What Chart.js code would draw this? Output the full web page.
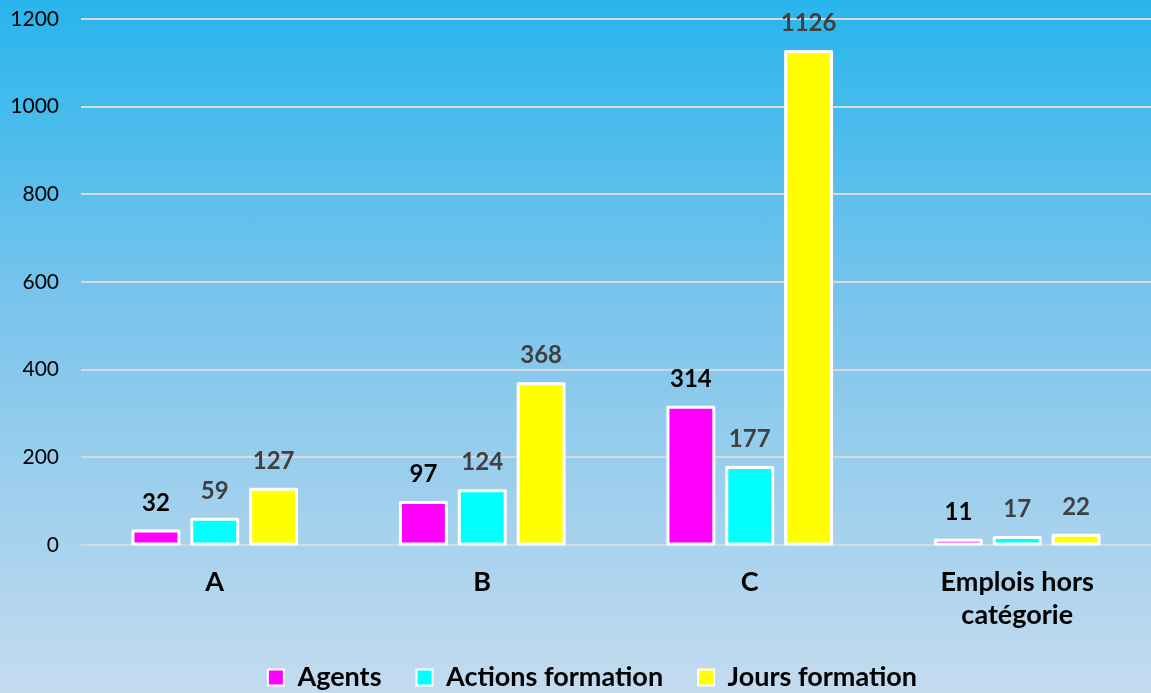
<!DOCTYPE html>
<html>
<head>
<meta charset="utf-8">
<script src="https://cdn.jsdelivr.net/npm/chart.js@4/dist/chart.umd.min.js"></script>
<style>
html,body{margin:0;padding:0;}
body{width:1151px;height:693px;background:linear-gradient(to bottom,#28b5ec 0%,#7cc5ec 45%,#c4dbef 100%);overflow:hidden;}
#wrap{position:relative;width:1151px;height:693px;}
</style>
</head>
<body>
<div id="wrap"><canvas id="c" width="1151" height="693"></canvas></div>
<script>
const categories = ["A", "B", "C", ["Emplois hors", "catégorie"]];
const agents = [32, 97, 314, 11];
const actionsFormation = [59, 124, 177, 17];
const joursFormation = [127, 368, 1126, 22];
const seriesNames = ["Agents", "Actions formation", "Jours formation"];
const yTicks = [0, 200, 400, 600, 800, 1000, 1200];

const FONT = "Lato, 'Open Sans', sans-serif";

const labelPlugin = {
  id: 'valueLabels',
  afterLayout(chart) {
    if (chart.legend) { chart.legend.left += 17; chart.legend.right += 17; }
  },
  afterDatasetsDraw(chart) {
    const ctx = chart.ctx;
    // white outlines centred on the bar edges
    chart.data.datasets.forEach((ds, i) => {
      const meta = chart.getDatasetMeta(i);
      meta.data.forEach((bar) => {
        const p = bar.getProps(['x', 'y', 'base', 'width'], true);
        ctx.save();
        ctx.strokeStyle = "#ffffff";
        ctx.lineWidth = 3;
        ctx.lineJoin = "round";
        ctx.strokeRect(p.x - p.width / 2, p.y, p.width, p.base - p.y);
        ctx.restore();
      });
    });
    chart.data.datasets.forEach((ds, i) => {
      const meta = chart.getDatasetMeta(i);
      meta.data.forEach((bar, j) => {
        ctx.save();
        ctx.font = "bold 24px " + FONT;
        ctx.fillStyle = i === 0 ? "#000000" : "#404040";
        ctx.textAlign = "center";
        ctx.textBaseline = "middle";
        ctx.fillText(String(ds.data[j]), bar.x, bar.y - 28);
        ctx.restore();
      });
    });
  }
};

new Chart(document.getElementById('c'), {
  type: 'bar',
  data: {
    labels: categories,
    datasets: [
      {label: seriesNames[0], data: agents, backgroundColor: "#ff00ff"},
      {label: seriesNames[1], data: actionsFormation, backgroundColor: "#00ffff"},
      {label: seriesNames[2], data: joursFormation, backgroundColor: "#ffff00"}
    ]
  },
  options: {
    responsive: false,
    animation: false,
    layout: {padding: {top: 19, right: 0, left: 0, bottom: -8}},
    datasets: {
      bar: {
        borderWidth: 0,
        categoryPercentage: 0.66,
        barPercentage: 0.78
      }
    },
    plugins: {
      legend: {
        position: 'bottom',
        labels: {
          font: {family: FONT, size: 27, weight: 'bold'},
          color: "#000000",
          boxWidth: 16,
          boxHeight: 16,
          padding: 35,
          generateLabels(chart) {
            return chart.data.datasets.map((ds, i) => ({
              text: ds.label,
              fillStyle: ds.backgroundColor,
              strokeStyle: "#ffffff",
              lineWidth: 2,
              fontColor: "#000000",
              datasetIndex: i,
              hidden: false
            }));
          }
        }
      },
      tooltip: {enabled: false}
    },
    scales: {
      x: {
        grid: {display: false, drawTicks: false},
        border: {display: false},
        ticks: {
          font: {family: FONT, size: 27, weight: 'bold', lineHeight: 1.25},
          color: "#000000",
          padding: 20,
          maxRotation: 0
        },
        afterFit(scale) { scale.height = 84; }
      },
      y: {
        min: 0,
        max: 1200,
        afterBuildTicks(scale) { scale.ticks = yTicks.map(v => ({value: v})); },
        grid: {color: "#d9d9d9", lineWidth: 2, drawTicks: true, tickLength: 18, tickColor: "rgba(0,0,0,0)"},
        border: {display: false},
        ticks: {
          font: {family: FONT, size: 21},
          color: "#000000",
          padding: 4,
          callback: (v) => String(v)
        },
        afterFit(scale) { scale.width = 81; }
      }
    }
  },
  plugins: [labelPlugin]
});
</script>
</body>
</html>
